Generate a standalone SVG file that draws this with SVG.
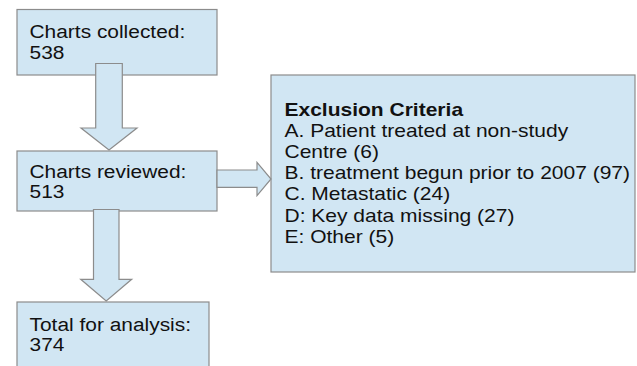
<svg xmlns="http://www.w3.org/2000/svg" width="637" height="366" viewBox="0 0 637 366">
<style>
.box{fill:#d1e6f3;stroke:#8c8c8c;stroke-width:1.2}
.arr{fill:#d1e6f3;stroke:#8c8c8c;stroke-width:1.2;stroke-linejoin:miter}
text{font-family:"Liberation Sans",Arial,Helvetica,sans-serif;font-size:18.6px;fill:#111}
.b{font-weight:bold}
</style>
<rect width="637" height="366" fill="#ffffff"/>
<g id="n1">
<rect class="box" x="17" y="9.5" width="200" height="65.5"/>
<g transform="translate(29.5,0) scale(1.125,1)"><text x="0" y="37.7">Charts collected:</text><text x="0" y="59">538</text></g>
</g>
<g id="n2">
<rect class="box" x="17" y="151" width="200" height="60"/>
<g transform="translate(29.5,0) scale(1.125,1)"><text x="0" y="177.7">Charts reviewed:</text><text x="0" y="198.5">513</text></g>
</g>
<g id="n3">
<rect class="box" x="17" y="302" width="192" height="70"/>
<g transform="translate(29.5,0) scale(1.125,1)"><text x="0" y="331">Total for analysis:</text><text x="0" y="351">374</text></g>
</g>
<g id="n4">
<rect class="box" x="271" y="75" width="364" height="197"/>
<g transform="translate(284.5,0) scale(1.13,1)">
<text x="0" y="116" class="b">Exclusion Criteria</text>
<text x="0" y="137">A. Patient treated at non-study</text>
<text x="0" y="158">Centre (6)</text>
<text x="0" y="179">B. treatment begun prior to 2007 (97)</text>
<text x="0" y="200.5">C. Metastatic (24)</text>
<text x="0" y="221.8">D: Key data missing (27)</text>
<text x="0" y="243">E: Other (5)</text>
</g>
</g>
<g id="connectors">
<polygon class="arr" points="95.7,63.5 122.3,63.5 122.3,128 137,128 109,150 81,128 95.7,128"/>
<polygon class="arr" points="217,170 257,170 257,162.3 271,179 257,195.7 257,187.3 217,187.3"/>
<polygon class="arr" points="93.5,209.5 119,209.5 119,279.3 131.7,279.3 106.2,301 80.7,279.3 93.5,279.3"/>
</g>
</svg>
